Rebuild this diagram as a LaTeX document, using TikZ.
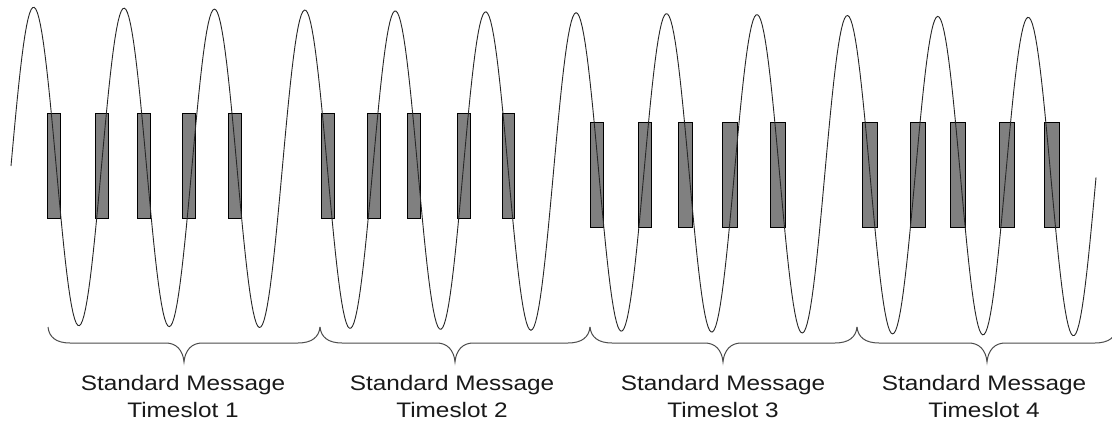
\documentclass[tikz,border=0pt]{standalone}
\usepackage{graphicx}
\usepackage{fontspec}
\setmainfont{Liberation Sans}
\begin{document}
\begin{tikzpicture}[x=1pt,y=-1pt,
  pulse/.style={draw=black, line width=0.9pt, fill=black!50},
  wave/.style={draw=black!85, line width=0.9pt},
  bracepath/.style={draw=black!70, line width=1pt},
  lbl/.style={anchor=base, inner sep=0pt, text=black!90, font=\fontsize{21}{25}\selectfont}]
\clip (0,0) rectangle (1112,423);
\fill[white] (0,0) rectangle (1112,423);
% pulses of timeslots 1 and 2
\foreach \a/\b in {47/60,95/108,137/150,182/195,228/241,321/334,367/380,407/420,457/470,502/514}
  \draw[pulse] (\a,113) rectangle (\b,218);
% pulses of timeslots 3 and 4
\foreach \a/\b in {590/603,638/651,678/692,722/737,770/785,862/877,910/925,950/965,999/1014,1044/1059}
  \draw[pulse] (\a,122) rectangle (\b,227);
% carrier wave
\draw[wave] plot[domain=11:1096, samples=700] (\x, {166+0.010138*(\x-11) - 159*sin(3.98142*(\x-11))});
% braces
\foreach \a/\m/\b in {48/184/320, 320/455/590, 590/723/857, 857/987/1117}
  \draw[bracepath] (\a,327) .. controls (\a+1,337) and (\a+8,343) .. (\a+22,343)
    -- (\m-18,343) .. controls (\m-8,343) and (\m-1,350) .. (\m,362)
    .. controls (\m+1,350) and (\m+8,343) .. (\m+18,343)
    -- (\b-22,343) .. controls (\b-8,343) and (\b-1,337) .. (\b,327);
% labels
\foreach \m/\n in {183/1,452/2,723/3,984/4} {
  \node[lbl] (sm\n) at (\m,390) {\scalebox{1.16}[1]{Standard Message}};
  \node[lbl] (ts\n) at (\m,417) {\scalebox{1.16}[1]{Timeslot \n}};
}
\end{tikzpicture}
\end{document}
